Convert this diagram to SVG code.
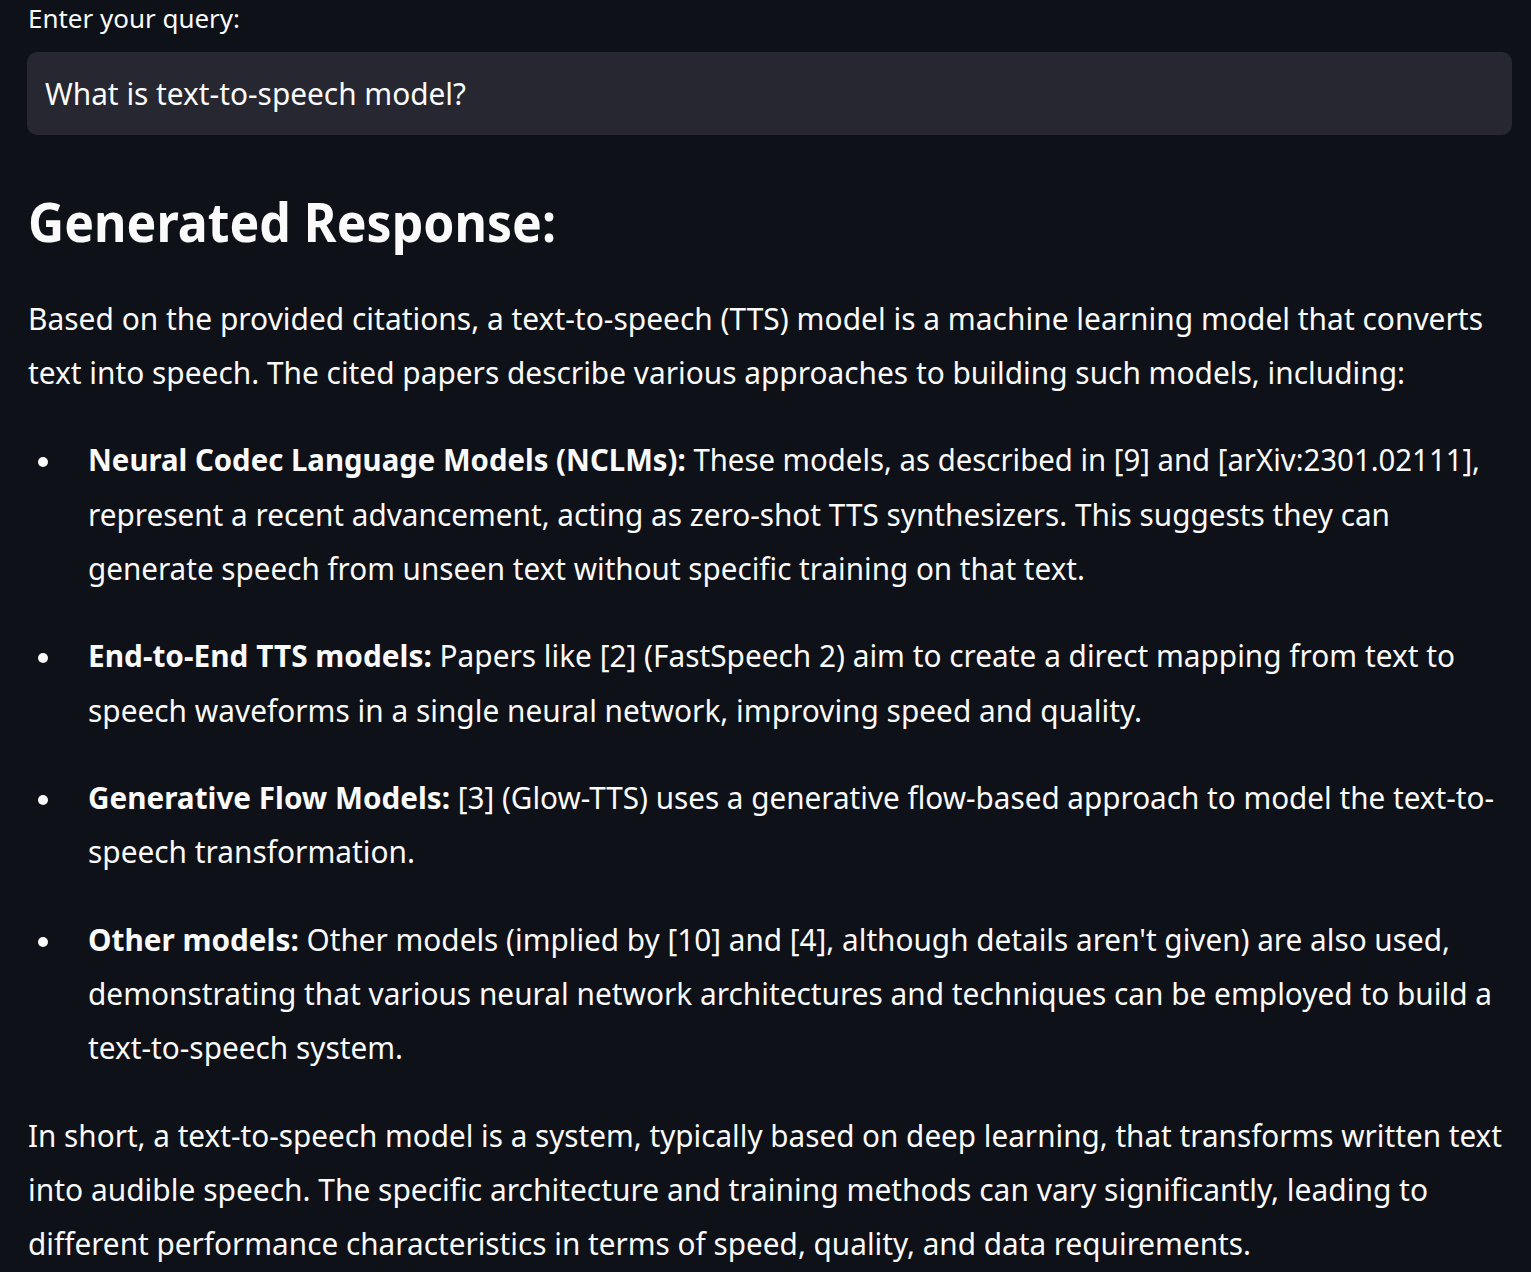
<svg xmlns="http://www.w3.org/2000/svg" width="1531" height="1272" viewBox="0 0 1531 1272">
<style>
text{font-family:"Noto Sans","Liberation Sans",sans-serif;fill:#fafafa}
.b{font-size:31px}
.bold{font-weight:bold}
.dot{fill:#fafafa}
</style>
<rect width="1531" height="1272" fill="#0e1117"/>
<text x="28" y="28" font-size="26" textLength="212" lengthAdjust="spacingAndGlyphs">Enter your query:</text>
<rect x="27" y="52" width="1485" height="83" rx="10" fill="#262730"/>
<text x="45" y="105" class="b" textLength="421" lengthAdjust="spacingAndGlyphs">What is text-to-speech model?</text>
<text x="28" y="242" font-size="54" font-weight="bold" textLength="528" lengthAdjust="spacingAndGlyphs">Generated Response:</text>
<text x="28" y="330" class="b" textLength="1455" lengthAdjust="spacingAndGlyphs">Based on the provided citations, a text-to-speech (TTS) model is a machine learning model that converts</text>
<text x="28" y="384" class="b" textLength="1377" lengthAdjust="spacingAndGlyphs">text into speech. The cited papers describe various approaches to building such models, including:</text>
<circle class="dot" cx="43" cy="462" r="5"/>
<circle class="dot" cx="43" cy="658" r="5"/>
<circle class="dot" cx="43" cy="800" r="5"/>
<circle class="dot" cx="43" cy="942" r="5"/>
<text x="88" y="471" class="b" textLength="1392" lengthAdjust="spacingAndGlyphs"><tspan class="bold">Neural Codec Language Models (NCLMs):</tspan> These models, as described in [9] and [arXiv:2301.02111],</text>
<text x="88" y="526" class="b" textLength="1302" lengthAdjust="spacingAndGlyphs">represent a recent advancement, acting as zero-shot TTS synthesizers. This suggests they can</text>
<text x="88" y="580" class="b" textLength="997" lengthAdjust="spacingAndGlyphs">generate speech from unseen text without specific training on that text.</text>
<text x="88" y="667" class="b" textLength="1367" lengthAdjust="spacingAndGlyphs"><tspan class="bold">End-to-End TTS models:</tspan> Papers like [2] (FastSpeech 2) aim to create a direct mapping from text to</text>
<text x="88" y="722" class="b" textLength="1054" lengthAdjust="spacingAndGlyphs">speech waveforms in a single neural network, improving speed and quality.</text>
<text x="88" y="809" class="b" textLength="1406" lengthAdjust="spacingAndGlyphs"><tspan class="bold">Generative Flow Models:</tspan> [3] (Glow-TTS) uses a generative flow-based approach to model the text-to-</text>
<text x="88" y="863" class="b" textLength="327" lengthAdjust="spacingAndGlyphs">speech transformation.</text>
<text x="88" y="951" class="b" textLength="1362" lengthAdjust="spacingAndGlyphs"><tspan class="bold">Other models:</tspan> Other models (implied by [10] and [4], although details aren't given) are also used,</text>
<text x="88" y="1005" class="b" textLength="1404" lengthAdjust="spacingAndGlyphs">demonstrating that various neural network architectures and techniques can be employed to build a</text>
<text x="88" y="1059" class="b" textLength="315" lengthAdjust="spacingAndGlyphs">text-to-speech system.</text>
<text x="28" y="1147" class="b" textLength="1474" lengthAdjust="spacingAndGlyphs">In short, a text-to-speech model is a system, typically based on deep learning, that transforms written text</text>
<text x="28" y="1201" class="b" textLength="1400" lengthAdjust="spacingAndGlyphs">into audible speech. The specific architecture and training methods can vary significantly, leading to</text>
<text x="28" y="1255" class="b" textLength="1223" lengthAdjust="spacingAndGlyphs">different performance characteristics in terms of speed, quality, and data requirements.</text>
</svg>
